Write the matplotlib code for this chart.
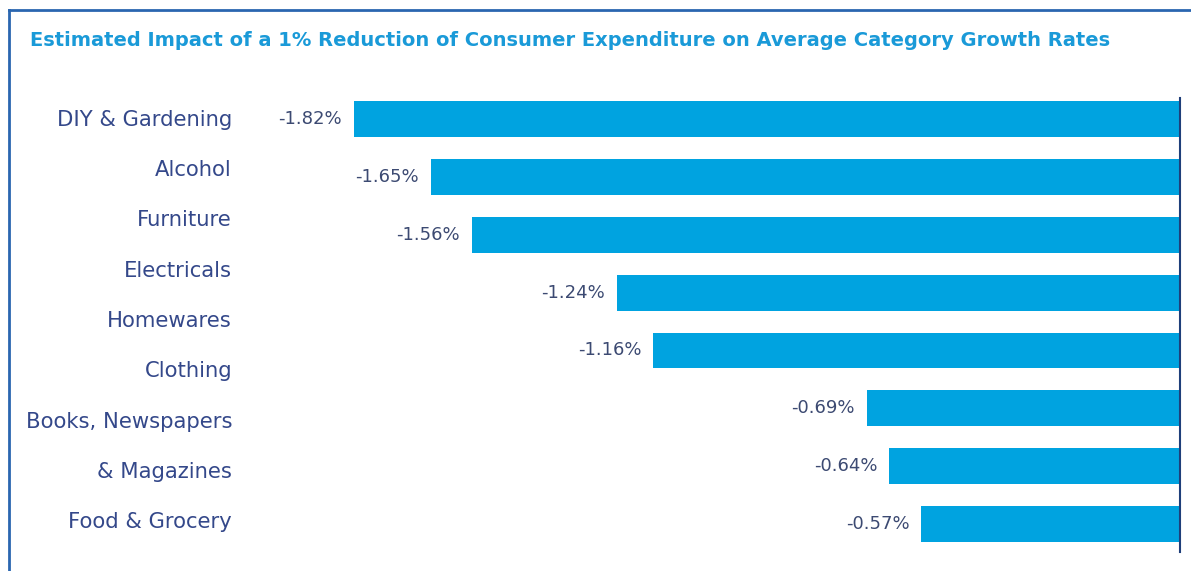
import matplotlib.pyplot as plt
from matplotlib.lines import Line2D

plt.rcParams['font.family'] = ['DejaVu Sans']

# data
werte = [-1.82, -1.65, -1.56, -1.24, -1.16, -0.69, -0.64, -0.57]
etiketten = ['-1.82%', '-1.65%', '-1.56%', '-1.24%', '-1.16%', '-0.69%', '-0.64%', '-0.57%']
kategorien = ['DIY & Gardening', 'Alcohol', 'Furniture', 'Electricals', 'Homewares',
              'Clothing', 'Books, Newspapers', '& Magazines', 'Food & Grocery']

titel = 'Estimated Impact of a 1% Reduction of Consumer Expenditure on Average Category Growth Rates'

W, H = 1191, 571
fig = plt.figure(figsize=(W / 100, H / 100), dpi=100)
fig.patch.set_facecolor('white')

ax = fig.add_axes([240 / W, 19 / H, 940 / W, 454 / H])
pos = list(range(len(werte)))
ax.barh(pos, werte, height=0.62, color='#00a3e0')
ax.set_xlim(-2.07, 0)
ax.set_ylim(7.48, -0.36)

for p, w, t in zip(pos, werte, etiketten):
    ax.text(w - 0.026, p, t, ha='right', va='center', fontsize=13, color='#3c4a72')

for s in ['top', 'left', 'bottom']:
    ax.spines[s].set_visible(False)
ax.spines['right'].set_color('#1f3f7a')
ax.spines['right'].set_linewidth(1.5)
ax.set_xticks([])
ax.set_yticks([])
ax.patch.set_alpha(0)

# category labels, evenly spaced down the left side
y0, y1 = 120, 522
for i, k in enumerate(kategorien):
    y = y0 + (y1 - y0) * i / (len(kategorien) - 1)
    fig.text(232 / W, 1 - y / H, k, ha='right', va='center', fontsize=15.2, color='#34488a')

fig.text(30 / W, 1 - 40 / H, titel, ha='left', va='center', fontsize=14,
         fontweight='bold', color='#1a9ad8')

# blue frame
fig.add_artist(Line2D([9 / W, 1], [1 - 10 / H, 1 - 10 / H], color='#2a66b0', lw=2,
                      transform=fig.transFigure))
fig.add_artist(Line2D([9 / W, 9 / W], [0, 1 - 10 / H], color='#2a66b0', lw=2,
                      transform=fig.transFigure))

fig.savefig('out.png', dpi=100)
